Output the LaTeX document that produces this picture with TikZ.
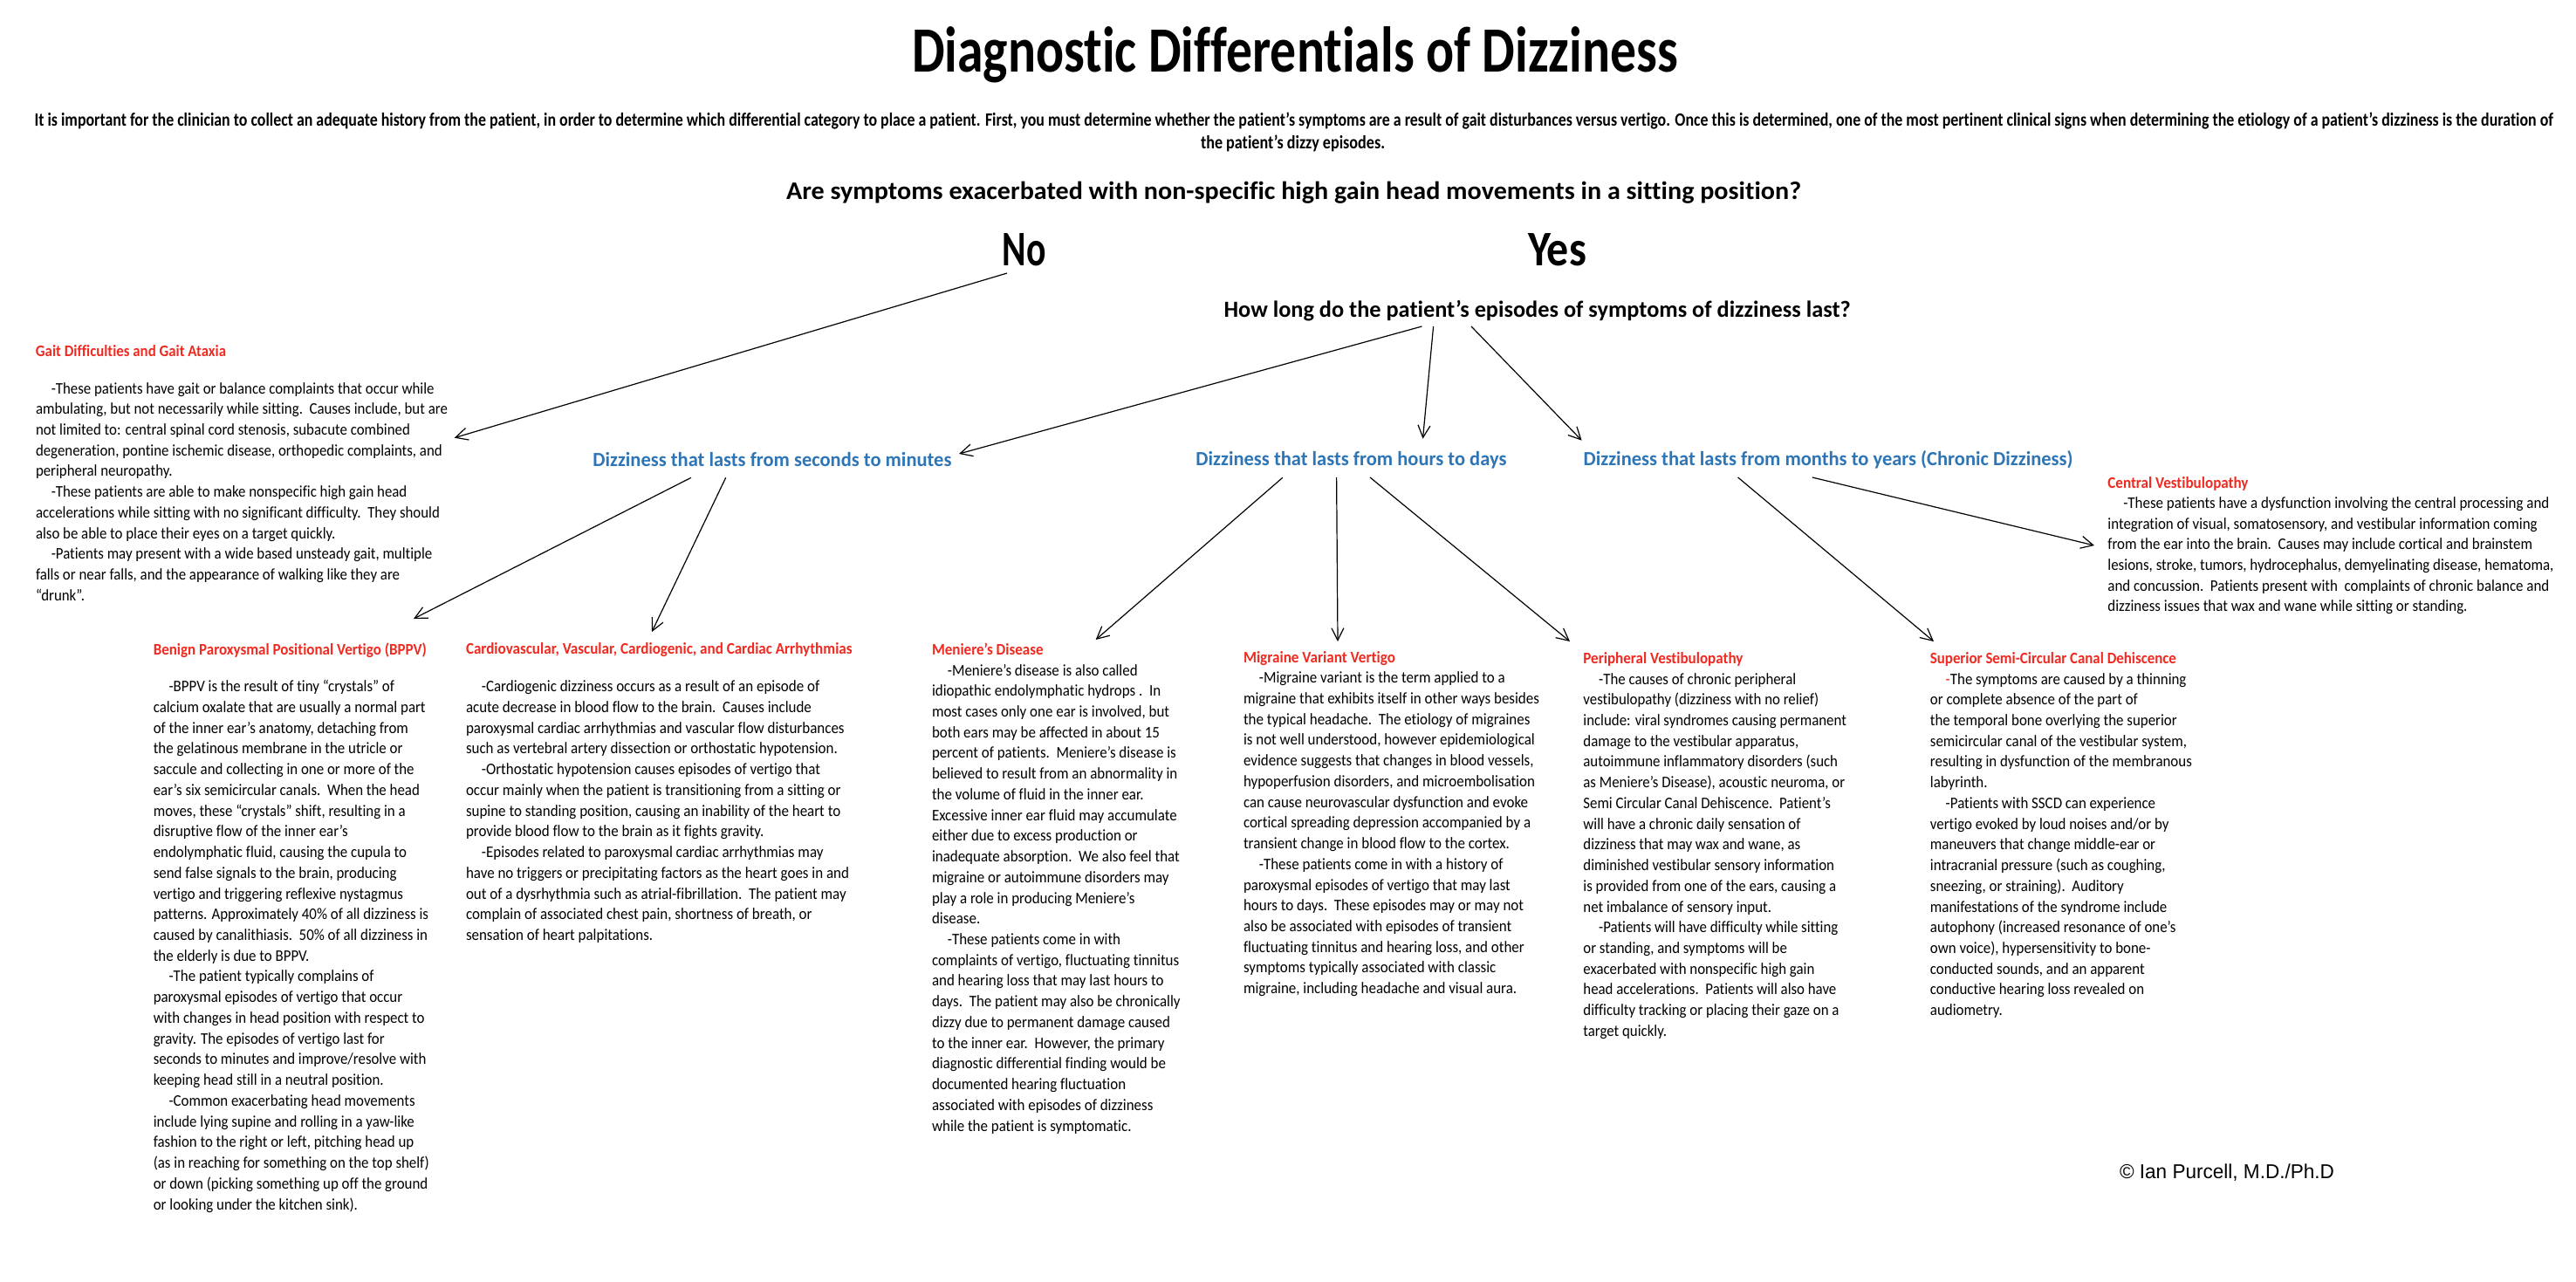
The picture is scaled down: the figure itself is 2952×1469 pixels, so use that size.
\documentclass[tikz,border=0pt]{standalone}
\usepackage{graphicx}
\usepackage{fontspec}
\setmainfont[Ligatures={NoCommon,TeX}]{Carlito}
\newfontfamily\arialfont{Liberation Sans}
\usetikzlibrary{arrows.meta}
\definecolor{hdred}{HTML}{F02A20}
\definecolor{hdblue}{HTML}{2E75B6}
\newcommand{\fitline}[2]{\resizebox{#1pt}{\height}{#2}}
\newcommand{\fitblock}[2]{\resizebox{#1pt}{\height}{\begin{tabular}[t]{@{}l@{}}#2\end{tabular}}}
\newcommand{\ind}{\hspace*{19.5pt}}
\tikzset{
  lbl/.style={inner sep=0pt,outer sep=0pt,anchor=base west},
  titletxt/.style={lbl,font=\fontsize{74}{78}\selectfont\bfseries},
  introtxt/.style={lbl,font=\fontsize{21.5}{24}\selectfont\bfseries},
  asktxt/.style={lbl,font=\fontsize{29}{32}\selectfont\bfseries},
  yntxt/.style={lbl,font=\fontsize{57}{60}\selectfont\bfseries},
  howtxt/.style={lbl,font=\fontsize{26.5}{30}\selectfont\bfseries},
  durtxt/.style={lbl,text=hdblue,font=\fontsize{23}{25}\selectfont\bfseries},
  headtxt/.style={lbl,text=hdred,font=\fontsize{18.5}{20}\selectfont\bfseries},
  bodytxt/.style={lbl,font=\fontsize{18.5}{23.73}\selectfont},
  credit/.style={lbl,font=\fontsize{23}{26}\selectfont\arialfont},
  arr/.style={draw=black,line width=1.2pt,-{Straight Barb[length=14pt,width=14pt,line width=1.2pt]}}
}
\begin{document}
\begin{tikzpicture}[x=1pt,y=-1pt]
\useasboundingbox (0,0) rectangle (2952,1469);
\fill[white] (0,0) rectangle (2952,1469);

\node[titletxt] (title) at (1045,83) {\fitline{878}{Diagnostic Differentials of Dizziness}};
\node[introtxt] (intro1) at (39.5,144.3) {\fitline{2886}{It is important for the clinician to collect an adequate history from the patient, in order to determine which differential category to place a patient. First, you must determine whether the patient’s symptoms are a result of gait disturbances versus vertigo. Once this is determined, one of the most pertinent clinical signs when determining the etiology of a patient’s dizziness is the duration of}};
\node[introtxt] (intro2) at (1376,170.7) {\fitline{211}{the patient’s dizzy episodes.}};
\node[asktxt] (ask) at (901,228.3) {\fitline{1163}{Are symptoms exacerbated with non-specific high gain head movements in a sitting position?}};
\node[yntxt] (no) at (1148.5,304.3) {\fitline{50}{No}};
\node[yntxt] (yes) at (1751,304.3) {\fitline{67}{Yes}};
\node[howtxt] (how) at (1402.6,363.3) {\fitline{718}{How long do the patient’s episodes of symptoms of dizziness last?}};

\node[durtxt] (sec) at (679.4,534.3) {\fitline{411}{Dizziness that lasts from seconds to minutes}};
\node[durtxt] (hrs) at (1370.4,533.3) {\fitline{356}{Dizziness that lasts from hours to days}};
\node[durtxt] (mon) at (1814.6,533.3) {\fitline{561}{Dizziness that lasts from months to years (Chronic Dizziness)}};

\node[headtxt] (gaitH) at (41,408) {\fitline{218}{Gait Difficulties and Gait Ataxia}};
\node[bodytxt] (gait) at (41,451) {\fitblock{472}{%
\ind -These patients have gait or balance complaints that occur while\\
ambulating, but not necessarily while sitting.\ \ Causes include, but are\\
not limited to: central spinal cord stenosis, subacute combined\\
degeneration, pontine ischemic disease, orthopedic complaints, and\\
peripheral neuropathy.\\
\ind -These patients are able to make nonspecific high gain head\\
accelerations while sitting with no significant difficulty.\ \ They should\\
also be able to place their eyes on a target quickly.\\
\ind -Patients may present with a wide based unsteady gait, multiple\\
falls or near falls, and the appearance of walking like they are\\
“drunk”.}};

\node[headtxt] (bppvH) at (175.8,750.7) {\fitline{313}{Benign Paroxysmal Positional Vertigo (BPPV)}};
\node[bodytxt] (bppv) at (175.8,792.7) {\fitblock{316}{%
\ind -BPPV is the result of tiny “crystals” of\\
calcium oxalate that are usually a normal part\\
of the inner ear’s anatomy, detaching from\\
the gelatinous membrane in the utricle or\\
saccule and collecting in one or more of the\\
ear’s six semicircular canals.\ \ When the head\\
moves, these “crystals” shift, resulting in a\\
disruptive flow of the inner ear’s\\
endolymphatic fluid, causing the cupula to\\
send false signals to the brain, producing\\
vertigo and triggering reflexive nystagmus\\
patterns. Approximately 40\% of all dizziness is\\
caused by canalithiasis.\ \ 50\% of all dizziness in\\
the elderly is due to BPPV.\\
\ind -The patient typically complains of\\
paroxysmal episodes of vertigo that occur\\
with changes in head position with respect to\\
gravity. The episodes of vertigo last for\\
seconds to minutes and improve/resolve with\\
keeping head still in a neutral position.\\
\ind -Common exacerbating head movements\\
include lying supine and rolling in a yaw-like\\
fashion to the right or left, pitching head up\\
(as in reaching for something on the top shelf)\\
or down (picking something up off the ground\\
or looking under the kitchen sink).}};

\node[headtxt] (cardH) at (534,749.3) {\fitline{442.6}{Cardiovascular, Vascular, Cardiogenic, and Cardiac Arrhythmias}};
\node[bodytxt] (card) at (534,792.7) {\fitblock{439}{%
\ind -Cardiogenic dizziness occurs as a result of an episode of\\
acute decrease in blood flow to the brain.\ \ Causes include\\
paroxysmal cardiac arrhythmias and vascular flow disturbances\\
such as vertebral artery dissection or orthostatic hypotension.\\
\ind -Orthostatic hypotension causes episodes of vertigo that\\
occur mainly when the patient is transitioning from a sitting or\\
supine to standing position, causing an inability of the heart to\\
provide blood flow to the brain as it fights gravity.\\
\ind -Episodes related to paroxysmal cardiac arrhythmias may\\
have no triggers or precipitating factors as the heart goes in and\\
out of a dysrhythmia such as atrial-fibrillation.\ \ The patient may\\
complain of associated chest pain, shortness of breath, or\\
sensation of heart palpitations.}};

\node[headtxt] (menH) at (1068,750) {\fitline{127.6}{Meniere’s Disease}};
\node[bodytxt] (men) at (1068,774) {\fitblock{284.6}{%
\ind -Meniere’s disease is also called\\
idiopathic endolymphatic hydrops .\ \ In\\
most cases only one ear is involved, but\\
both ears may be affected in about 15\\
percent of patients.\ \ Meniere’s disease is\\
believed to result from an abnormality in\\
the volume of fluid in the inner ear.\\
Excessive inner ear fluid may accumulate\\
either due to excess production or\\
inadequate absorption.\ \ We also feel that\\
migraine or autoimmune disorders may\\
play a role in producing Meniere’s\\
disease.\\
\ind -These patients come in with\\
complaints of vertigo, fluctuating tinnitus\\
and hearing loss that may last hours to\\
days.\ \ The patient may also be chronically\\
dizzy due to permanent damage caused\\
to the inner ear.\ \ However, the primary\\
diagnostic differential finding would be\\
documented hearing fluctuation\\
associated with episodes of dizziness\\
while the patient is symptomatic.}};

\node[headtxt] (migH) at (1425,759.3) {\fitline{174}{Migraine Variant Vertigo}};
\node[bodytxt] (mig) at (1425,782.7) {\fitblock{339}{%
\ind -Migraine variant is the term applied to a\\
migraine that exhibits itself in other ways besides\\
the typical headache.\ \ The etiology of migraines\\
is not well understood, however epidemiological\\
evidence suggests that changes in blood vessels,\\
hypoperfusion disorders, and microembolisation\\
can cause neurovascular dysfunction and evoke\\
cortical spreading depression accompanied by a\\
transient change in blood flow to the cortex.\\
\ind -These patients come in with a history of\\
paroxysmal episodes of vertigo that may last\\
hours to days.\ \ These episodes may or may not\\
also be associated with episodes of transient\\
fluctuating tinnitus and hearing loss, and other\\
symptoms typically associated with classic\\
migraine, including headache and visual aura.}};

\node[headtxt] (perH) at (1814.4,760) {\fitline{183}{Peripheral Vestibulopathy}};
\node[bodytxt] (per) at (1814.4,784) {\fitblock{301.5}{%
\ind -The causes of chronic peripheral\\
vestibulopathy (dizziness with no relief)\\
include: viral syndromes causing permanent\\
damage to the vestibular apparatus,\\
autoimmune inflammatory disorders (such\\
as Meniere’s Disease), acoustic neuroma, or\\
Semi Circular Canal Dehiscence.\ \ Patient’s\\
will have a chronic daily sensation of\\
dizziness that may wax and wane, as\\
diminished vestibular sensory information\\
is provided from one of the ears, causing a\\
net imbalance of sensory input.\\
\ind -Patients will have difficulty while sitting\\
or standing, and symptoms will be\\
exacerbated with nonspecific high gain\\
head accelerations.\ \ Patients will also have\\
difficulty tracking or placing their gaze on a\\
target quickly.}};

\node[headtxt] (supH) at (2211.9,760.7) {\fitline{282}{Superior Semi-Circular Canal Dehiscence}};
\node[bodytxt] (sup) at (2211.9,784) {\fitblock{300}{%
\ind \textcolor{hdred}{-}The symptoms are caused by a thinning\\
or complete absence of the part of\\
the temporal bone overlying the superior\\
semicircular canal of the vestibular system,\\
resulting in dysfunction of the membranous\\
labyrinth.\\
\ind -Patients with SSCD can experience\\
vertigo evoked by loud noises and/or by\\
maneuvers that change middle-ear or\\
intracranial pressure (such as coughing,\\
sneezing, or straining).\ \ Auditory\\
manifestations of the syndrome include\\
autophony (increased resonance of one’s\\
own voice), hypersensitivity to bone-\\
conducted sounds, and an apparent\\
conductive hearing loss revealed on\\
audiometry.}};

\node[headtxt] (cenH) at (2415.4,559.3) {\fitline{161}{Central Vestibulopathy}};
\node[bodytxt] (cen) at (2415.4,582.3) {\fitblock{511}{%
\ind -These patients have a dysfunction involving the central processing and\\
integration of visual, somatosensory, and vestibular information coming\\
from the ear into the brain.\ \ Causes may include cortical and brainstem\\
lesions, stroke, tumors, hydrocephalus, demyelinating disease, hematoma,\\
and concussion.\ \ Patients present with\ \ complaints of chronic balance and\\
dizziness issues that wax and wane while sitting or standing.}};

\node[credit] (copy) at (2429,1350) {\fitline{246}{© Ian Purcell, M.D./Ph.D}};

\draw[arr] ([shift={(5.5,8.7)}]no.base west) -- ([shift={(479.7,50.7)}]gait.base west);
\draw[arr] ([shift={(226.8,10.7)}]how.base west) -- ([shift={(419.6,-14.3)}]sec.base west);
\draw[arr] ([shift={(240,10.7)}]how.base west) -- ([shift={(260.1,-30.6)}]hrs.base west);
\draw[arr] ([shift={(283.4,10.7)}]how.base west) -- ([shift={(-2,-28.6)}]mon.base west);
\draw[arr] ([shift={(112.6,13)}]sec.base west) -- ([shift={(298.2,-41.7)}]bppvH.base west);
\draw[arr] ([shift={(152.3,13)}]sec.base west) -- ([shift={(213,-25.3)}]cardH.base west);
\draw[arr] ([shift={(99.4,14)}]hrs.base west) -- ([shift={(187.7,-17)}]menH.base west);
\draw[arr] ([shift={(161.2,13.7)}]hrs.base west) -- ([shift={(108,-24.3)}]migH.base west);
\draw[arr] ([shift={(199.6,13.7)}]hrs.base west) -- ([shift={(-15.4,-25)}]perH.base west);
\draw[arr] ([shift={(177,13.7)}]mon.base west) -- ([shift={(4.1,-25.7)}]supH.base west);
\draw[arr] ([shift={(262.2,13.7)}]mon.base west) -- ([shift={(-15.4,42.7)}]cen.base west);
\end{tikzpicture}
\end{document}
